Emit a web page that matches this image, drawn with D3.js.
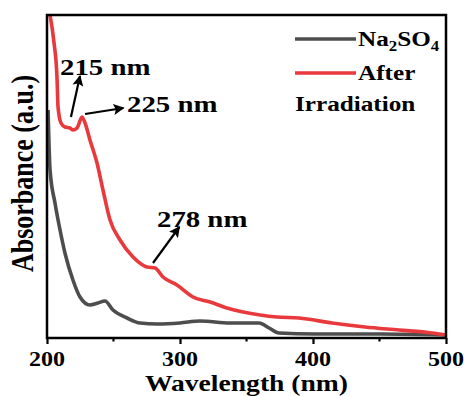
<!DOCTYPE html>
<html>
<head>
<meta charset="utf-8">
<script src="https://cdn.jsdelivr.net/npm/d3@7"></script>
<style>
  body { margin: 0; background: #fff; }
  text { font-family: "Liberation Serif", "Times New Roman", serif; font-weight: bold; fill: #000; }
</style>
</head>
<body>
<svg id="chart" width="464" height="396"></svg>
<script>
// wavelength (nm) / absorbance (a.u.)
var naWave = [200.8, 202.3, 206, 209.8, 213.5, 219.5, 224.8, 232.3, 238.3, 243.6, 249.6, 260.2, 270, 282.7, 300, 315, 337.6, 359.4, 367, 374.4, 400.8, 450.4, 500];
var naAbs  = [2.28, 1.68, 1.35, 1.08, 0.85, 0.58, 0.41, 0.33, 0.35, 0.37, 0.28, 0.20, 0.15, 0.14, 0.15, 0.17, 0.15, 0.15, 0.10, 0.05, 0.04, 0.04, 0.03];

var irrWave = [202, 205.3, 207.5, 208.3, 210.5, 213.5, 217.3, 219.5, 222.6, 226.3, 228.6, 232.3, 237.6, 242.1, 247.4, 254.9, 264.7, 275.2, 281.2, 287.2, 297.7, 309.8, 322.6, 335.3, 347.4, 360.2, 373, 389.5, 414.3, 439.1, 464.7, 489.5, 499.5];
var irrAbs  = [3.25, 2.95, 2.61, 2.31, 2.15, 2.11, 2.10, 2.08, 2.10, 2.21, 2.15, 1.98, 1.75, 1.48, 1.18, 0.98, 0.81, 0.71, 0.70, 0.61, 0.53, 0.41, 0.36, 0.30, 0.26, 0.23, 0.21, 0.20, 0.15, 0.11, 0.08, 0.05, 0.03];

var xTicks = [200, 300, 400, 500];
var xMinor = [250, 350, 450];

// peak labels: text position and arrow (from -> tip), in data units
var peakLabels = ["215 nm", "225 nm", "278 nm"];
var labelWave  = [209.8, 260.2, 282.7];
var labelAbs   = [2.63, 2.26, 1.11];
var arrowFrom  = [[218.0, 2.21], [228.6, 2.24], [279.7, 0.75]];
var arrowTo    = [[224.8, 2.62], [257.5, 2.30], [299.5, 1.11]];

var legendNames = ["Na2SO4", "After"];
var colors = ["#4d4d4d", "#e8393c"];

var svg = d3.select("#chart");
var margin = { top: 15, right: 18, bottom: 58, left: 47 };
var width = 464 - margin.left - margin.right,
    height = 396 - margin.top - margin.bottom;
var stretch = 1.2; // the picture's lettering is wide

var x = d3.scaleLinear().domain([200, 500]).range([0, width]);
var y = d3.scaleLinear().domain([0, 3.23]).range([height, 0]);

var g = svg.append("g").attr("transform", "translate(" + margin.left + "," + margin.top + ")");

svg.append("defs").append("clipPath").attr("id", "clip")
    .append("rect").attr("width", width).attr("height", height);

// helper for the stretched lettering
function label(parent, px, py, str, size, anchor, rot) {
    var t = parent.append("g")
        .attr("transform", "translate(" + px + "," + py + ") scale(" + stretch + ",1)" + (rot ? " rotate(" + rot + ")" : ""))
        .append("text")
        .attr("text-anchor", anchor || "start")
        .style("font-size", size + "px");
    if (str) t.text(str);
    return t;
}

// curves
var line = d3.line()
    .curve(d3.curveMonotoneX)
    .x(function (d) { return x(d[0]); })
    .y(function (d) { return y(d[1]); });
var series = [d3.zip(naWave, naAbs), d3.zip(irrWave, irrAbs)];
g.append("g").attr("clip-path", "url(#clip)")
    .selectAll("path").data(series).enter().append("path")
    .attr("d", line)
    .attr("fill", "none")
    .attr("stroke", function (d, i) { return colors[i]; })
    .attr("stroke-width", 3.6)
    .attr("stroke-linejoin", "round");

// frame
g.append("rect").attr("width", width).attr("height", height)
    .attr("fill", "none").attr("stroke", "#000").attr("stroke-width", 2.5);

// x axis
var xAxis = g.append("g").attr("transform", "translate(0," + height + ")");
xAxis.call(d3.axisBottom(x).tickValues(xTicks).tickSize(6).tickFormat(""))
    .call(function (a) { a.select(".domain").remove(); })
    .selectAll("line").attr("stroke-width", 2.2);
xAxis.selectAll(".minor").data(xMinor).enter().append("line")
    .attr("class", "minor")
    .attr("x1", function (d) { return x(d); }).attr("x2", function (d) { return x(d); })
    .attr("y1", 0).attr("y2", 3.5)
    .attr("stroke", "#000").attr("stroke-width", 2.2);
xTicks.forEach(function (t) {
    label(xAxis, x(t), 28, String(t), 20, "middle");
});

// axis titles
label(g, width / 2, height + 53, "Wavelength (nm)", 23, "middle");
label(g, -14, height / 2 - 3, "Absorbance (a.u.)", 26, "middle", -90);

// peak annotations
svg.append("defs").append("marker")
    .attr("id", "arrow").attr("viewBox", "0 0 10 10")
    .attr("refX", 9).attr("refY", 5)
    .attr("markerWidth", 5.5).attr("markerHeight", 5)
    .attr("markerUnits", "strokeWidth")
    .attr("orient", "auto")
    .append("path").attr("d", "M0,0L10,5L0,10L2,5Z").attr("fill", "#000");

peakLabels.forEach(function (s, i) {
    g.append("line")
        .attr("x1", x(arrowFrom[i][0])).attr("y1", y(arrowFrom[i][1]))
        .attr("x2", x(arrowTo[i][0])).attr("y2", y(arrowTo[i][1]))
        .attr("stroke", "#000").attr("stroke-width", 2.2)
        .attr("marker-end", "url(#arrow)");
    label(g, x(labelWave[i]), y(labelAbs[i]), s, 24, "start");
});

// legend
var leg = svg.append("g");
[39, 73].forEach(function (ly, i) {
    leg.append("line").attr("x1", 295).attr("x2", 356).attr("y1", ly).attr("y2", ly)
        .attr("stroke", colors[i]).attr("stroke-width", 3.6);
});
var na = label(leg, 358, 46, null, 21, "start");
na.append("tspan").text("Na");
na.append("tspan").text("2").style("font-size", "14px").attr("dy", 5);
na.append("tspan").text("SO").attr("dy", -5);
na.append("tspan").text("4").style("font-size", "14px").attr("dy", 5);
label(leg, 358, 80, legendNames[1], 21, "start");
label(leg, 295, 111, "Irradiation", 21, "start");
</script>
</body>
</html>
